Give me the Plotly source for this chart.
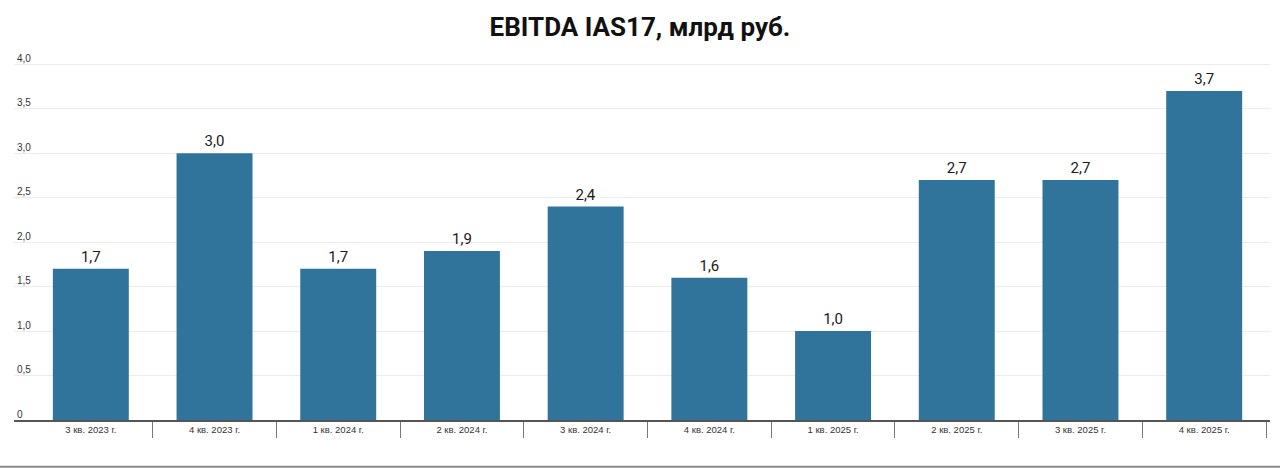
import plotly.graph_objects as go

quarters = ['3 кв. 2023 г.', '4 кв. 2023 г.', '1 кв. 2024 г.', '2 кв. 2024 г.', '3 кв. 2024 г.',
            '4 кв. 2024 г.', '1 кв. 2025 г.', '2 кв. 2025 г.', '3 кв. 2025 г.', '4 кв. 2025 г.']
ebitda = [1.7, 3.0, 1.7, 1.9, 2.4, 1.6, 1.0, 2.7, 2.7, 3.7]
y_ticks = [0, 0.5, 1.0, 1.5, 2.0, 2.5, 3.0, 3.5, 4.0]
y_tick_labels = ['0', '0,5', '1,0', '1,5', '2,0', '2,5', '3,0', '3,5', '4,0']

bar_labels = [f'{v:.1f}'.replace('.', ',') for v in ebitda]

fig = go.Figure(go.Bar(
    x=quarters, y=ebitda,
    text=bar_labels, textposition='outside', cliponaxis=False,
    textfont=dict(size=15, color='#1a1a1a', family='Roboto'),
    marker=dict(color='#31749b', line=dict(width=0)),
    width=0.614,
))

fig.update_layout(
    width=1280, height=469,
    margin=dict(l=14, r=10, t=51, b=49),
    paper_bgcolor='white', plot_bgcolor='white',
    showlegend=False,
    title=dict(text='<b>EBITDA IAS17, млрд руб.</b>', x=0.5, xanchor='center',
               y=0.942, yanchor='middle',
               font=dict(size=26, color='#111111', family='Roboto')),
    font=dict(family='Roboto'),
)

fig.update_xaxes(
    type='category', range=[-0.621, 9.532],
    showline=True, linecolor='#555555', linewidth=2,
    ticks='outside', tickson='boundaries', ticklen=16, tickcolor='#777777', tickwidth=1,
    tickfont=dict(size=9.5, color='#333333', family='Arial'),
    showgrid=False, fixedrange=True,
)

fig.update_yaxes(
    range=[0, 4.15], tickvals=y_ticks, ticktext=y_tick_labels,
    showgrid=True, gridcolor='#ececec', gridwidth=1,
    zeroline=False, showline=False,
    ticklabelposition='inside', ticklabelshift=-6, ticklabelstandoff=0,
    tickfont=dict(size=10, color='#333333', family='Arial'),
)

# grey separator at the bottom edge
fig.add_shape(type='line', xref='paper', yref='paper', x0=-0.02, x1=1.02, y0=-0.127, y1=-0.127,
              line=dict(color='#8a8a8a', width=2))

fig.write_html('out.html', config={'displayModeBar': False},
               post_script="document.body.style.margin='0';")
